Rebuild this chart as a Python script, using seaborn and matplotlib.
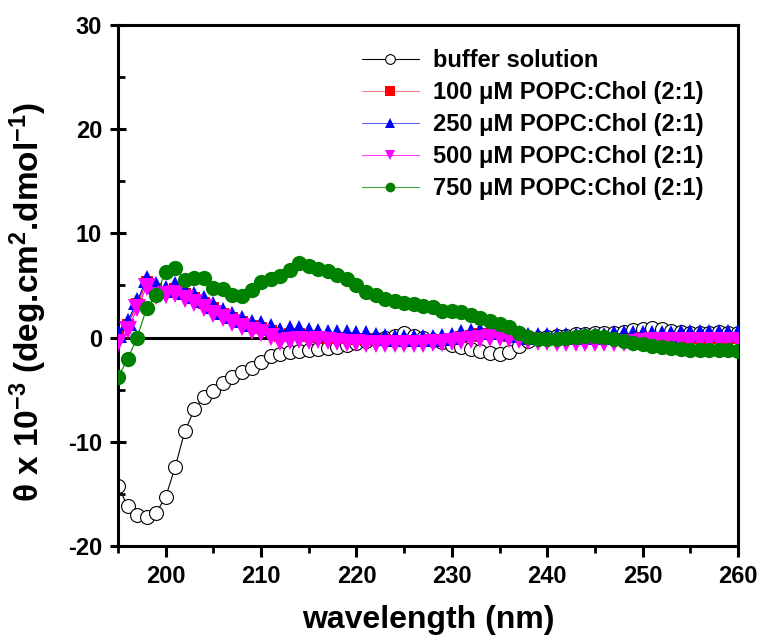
import numpy as np
import pandas as pd
import matplotlib
matplotlib.use("Agg")
import matplotlib.pyplot as plt
import seaborn as sns
from matplotlib.lines import Line2D
from matplotlib.ticker import MultipleLocator

# ---------------- data ----------------
wavelength = list(range(195, 261))

buffer_solution = [
    -14.2, -16.2, -17.0, -17.2, -16.8, -15.3, -12.4, -9.0, -6.9, -5.7,
    -5.1, -4.4, -3.8, -3.3, -2.9, -2.3, -1.8, -1.6, -1.4, -1.3,
    -1.2, -1.1, -1.0, -0.9, -0.7, -0.5, -0.3, -0.1, 0.0, 0.2,
    0.4, 0.2, 0.0, -0.2, -0.4, -0.7, -0.9, -1.1, -1.3, -1.5,
    -1.6, -1.4, -0.8, -0.3, 0.0, 0.1, 0.2, 0.2, 0.3, 0.3,
    0.4, 0.4, 0.4, 0.5, 0.7, 0.8, 0.9, 0.8, 0.6, 0.5,
    0.4, 0.4, 0.4, 0.5, 0.4, 0.4]

popc_250 = [
    0.3, 1.5, 3.5, 5.6, 5.0, 4.7, 5.0, 4.5, 4.1, 3.7,
    3.1, 2.6, 2.2, 1.8, 1.4, 1.3, 1.0, 0.6, 0.8, 0.8,
    0.6, 0.5, 0.4, 0.4, 0.4, 0.3, 0.3, 0.2, 0.1, 0.0,
    0.0, 0.0, 0.0, 0.0, 0.1, 0.2, 0.4, 0.5, 0.6, 0.6,
    0.6, 0.5, 0.3, 0.2, 0.2, 0.2, 0.2, 0.2, 0.2, 0.2,
    0.2, 0.2, 0.3, 0.3, 0.3, 0.3, 0.3, 0.3, 0.3, 0.4,
    0.4, 0.4, 0.4, 0.4, 0.4, 0.4]

popc_100 = [
    0.1, 1.2, 3.2, 5.3, 4.7, 4.4, 4.7, 4.2, 3.8, 3.3,
    2.8, 2.3, 1.9, 1.5, 1.1, 0.9, 0.6, 0.2, 0.3, 0.3,
    0.2, 0.1, 0.0, 0.0, 0.0, -0.1, -0.1, -0.2, -0.2, -0.3,
    -0.3, -0.3, -0.3, -0.3, -0.2, -0.1, 0.1, 0.2, 0.3, 0.3,
    0.3, 0.2, 0.1, 0.0, -0.1, -0.1, -0.1, -0.1, -0.1, -0.1,
    -0.1, -0.1, -0.1, -0.1, -0.1, 0.0, 0.0, 0.0, 0.0, 0.0,
    0.0, 0.0, 0.0, 0.0, 0.0, 0.0]

popc_500 = [
    -0.5, 0.7, 2.8, 4.9, 4.0, 4.1, 4.2, 3.75, 3.3, 2.8,
    2.3, 1.9, 1.4, 1.05, 0.6, 0.4, 0.1, -0.4, -0.3, -0.2,
    -0.3, -0.2, -0.3, -0.4, -0.5, -0.5, -0.6, -0.6, -0.6, -0.6,
    -0.6, -0.6, -0.6, -0.5, -0.5, -0.4, -0.3, -0.2, -0.1, 0.0,
    0.0, -0.1, -0.2, -0.3, -0.4, -0.4, -0.5, -0.5, -0.5, -0.5,
    -0.5, -0.5, -0.5, -0.5, -0.5, -0.4, -0.3, -0.3, -0.3, -0.3,
    -0.3, -0.3, -0.3, -0.3, -0.3, -0.3]

popc_750 = [
    -3.8, -2.1, 0.0, 2.8, 4.1, 6.3, 6.7, 5.5, 5.7, 5.7,
    4.8, 4.7, 4.1, 4.0, 4.6, 5.3, 5.6, 5.9, 6.5, 7.2,
    6.9, 6.6, 6.4, 6.0, 5.6, 5.0, 4.4, 4.1, 3.75, 3.5,
    3.3, 3.2, 3.05, 2.9, 2.6, 2.6, 2.5, 2.2, 1.9, 1.6,
    1.3, 1.0, 0.4, 0.1, -0.1, -0.1, -0.1, 0.0, 0.1, 0.2,
    0.2, 0.1, -0.1, -0.3, -0.5, -0.6, -0.8, -0.9, -1.0, -1.1,
    -1.2, -1.2, -1.2, -1.2, -1.2, -1.3]

series_labels = [
    "buffer solution",
    "100 \u03bcM POPC:Chol (2:1)",
    "250 \u03bcM POPC:Chol (2:1)",
    "500 \u03bcM POPC:Chol (2:1)",
    "750 \u03bcM POPC:Chol (2:1)",
]
series_values = [buffer_solution, popc_100, popc_250, popc_500, popc_750]

x_ticks = [200, 210, 220, 230, 240, 250, 260]
y_ticks = [-20, -10, 0, 10, 20, 30]

# ---------------- style ----------------
sns.set_theme(style="white")
plt.rcParams["font.family"] = ["Liberation Sans", "DejaVu Sans"]
plt.rcParams["font.weight"] = "bold"
plt.rcParams["axes.unicode_minus"] = False
plt.rcParams["text.color"] = "black"
plt.rcParams["axes.labelcolor"] = "black"
plt.rcParams["xtick.color"] = "black"
plt.rcParams["ytick.color"] = "black"
plt.rcParams["mathtext.fontset"] = "custom"
plt.rcParams["mathtext.rm"] = "Liberation Sans:bold"
plt.rcParams["mathtext.bf"] = "Liberation Sans:bold"
plt.rcParams["mathtext.it"] = "Liberation Sans:bold"

colors = ["black", "red", "blue", "magenta", "green"]
markers = ["o", "s", "^", "v", "o"]
msizes = [10, 9, 12.5, 12.5, 11]
faces = ["white", "red", "blue", "magenta", "green"]
legend_line_colors = ["black", "#ff8080", "#6060ff", "#ff40ff", "#40a040"]

frames = []
for lab, vals in zip(series_labels, series_values):
    frames.append(pd.DataFrame({"wavelength": wavelength, "theta": vals, "series": lab}))
df = pd.concat(frames, ignore_index=True)

fig = plt.figure(figsize=(7.59, 6.37), dpi=100)
ax = fig.add_axes([118 / 759, 1 - 546 / 637, (738 - 118) / 759, (546 - 25) / 637])

ax.axhline(0, color="black", lw=2.2, zorder=1)

for i, lab in enumerate(series_labels):
    sub = df[df["series"] == lab]
    sns.lineplot(data=sub, x="wavelength", y="theta", ax=ax,
                 color=colors[i], lw=0.8, marker=markers[i],
                 markersize=msizes[i], markerfacecolor=faces[i],
                 markeredgecolor=colors[i], markeredgewidth=0.8 if i == 0 else 0,
                 legend=False, zorder=2 + i)

ax.set_xlim(195, 260)
ax.set_ylim(-20, 30)
ax.set_xticks(x_ticks)
ax.set_yticks(y_ticks)
ax.xaxis.set_minor_locator(MultipleLocator(5))
ax.yaxis.set_minor_locator(MultipleLocator(5))
ax.tick_params(axis="both", which="major", labelsize=17, width=2.2, length=8,
               direction="out", bottom=True, left=True, pad=6, colors="black")
ax.tick_params(axis="both", which="minor", width=2.0, length=5,
               direction="out", bottom=True, left=True, colors="black")
ax.tick_params(axis="y", which="major", direction="inout", length=11)
ax.tick_params(axis="y", which="minor", direction="in", length=5)
for lbl in ax.get_xticklabels() + ax.get_yticklabels():
    lbl.set_fontweight("bold")

for sp in ax.spines.values():
    sp.set_linewidth(2.2)
    sp.set_color("black")
    sp.set_visible(True)

ax.set_xlabel("wavelength (nm)", fontsize=23, fontweight="bold", labelpad=12)
ax.set_ylabel("\u03b8 x 10$^{-3}$ (deg.cm$^{2}$.dmol$^{-1}$)",
              fontsize=24, fontweight="bold")
ax.yaxis.set_label_coords(-0.112, 0.468)
ax.grid(False)

handles = []
for i in range(5):
    handles.append(Line2D([0], [0], color=legend_line_colors[i], lw=0.8,
                          marker=markers[i], markersize=7,
                          markerfacecolor=faces[i], markeredgecolor=colors[i],
                          markeredgewidth=0.8 if i == 0 else 0))
leg = ax.legend(handles, series_labels, loc="upper left",
                bbox_to_anchor=(362 / 759, 1 - 49 / 637), bbox_transform=fig.transFigure,
                frameon=False, fontsize=17, handlelength=2.4, handletextpad=0.6,
                labelspacing=0.38, borderpad=0, borderaxespad=0)
for t in leg.get_texts():
    t.set_fontweight("bold")
    t.set_color("black")

fig.savefig("out.png", dpi=100)
